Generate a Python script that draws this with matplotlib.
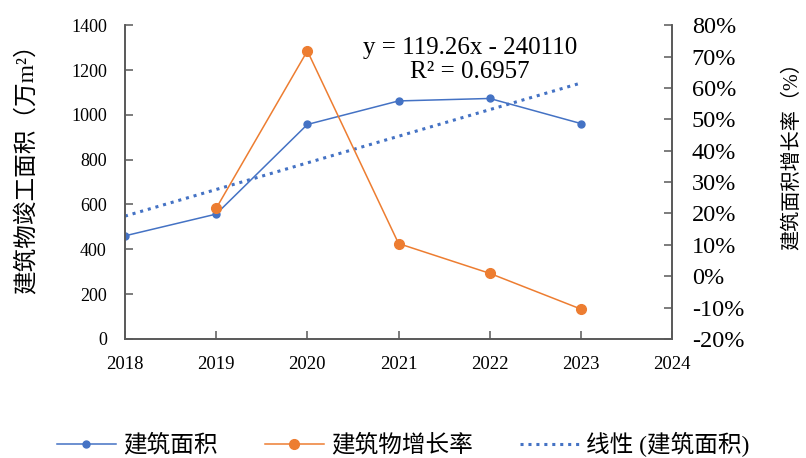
import numpy as np
import matplotlib.pyplot as plt
from matplotlib.ticker import FuncFormatter

plt.rcParams['font.family'] = ['Liberation Serif', 'Noto Sans CJK SC']
plt.rcParams['axes.unicode_minus'] = False

# data
years = [2018, 2019, 2020, 2021, 2022, 2023]
area = [460, 557, 957, 1062, 1073, 961]            # 建筑面积 (万m²)
growth_years = [2019, 2020, 2021, 2022, 2023]
growth = [21.6, 71.8, 10.4, 0.9, -10.5]            # 建筑物增长率 (%)

blue = '#4472C4'
orange = '#ED7D31'
axis_col = '#595959'

fig = plt.figure(figsize=(8.06, 4.58), dpi=100)
ax = fig.add_axes([0.155, 0.26, 0.679, 0.685])
ax2 = ax.twinx()

l1, = ax.plot(years, area, color=blue, lw=1.1, marker='o', ms=5, label='建筑面积')
l2, = ax2.plot(growth_years, growth, color=orange, lw=1.1, marker='o', ms=7, label='建筑物增长率')

# linear trend of the area series
k, b = np.polyfit(years, area, 1)
fit = np.polyval([k, b], years)
l3, = ax.plot(years, fit, color=blue, lw=2.2, ls=(0, (1, 1.6)), label='线性 (建筑面积)')
ax.text(2021.78, 1244, 'y = 119.26x - 240110\nR² = 0.6957', ha='center', va='center',
        fontsize=18, linespacing=1.1)

ax.set_xlim(2018, 2024)
ax.set_ylim(0, 1400)
ax.set_xticks(range(2018, 2025))
ax.set_yticks(range(0, 1401, 200))
ax2.set_ylim(-20, 80)
ax2.set_yticks(range(-20, 81, 10))
ax2.yaxis.set_major_formatter(FuncFormatter(lambda v, p: f'{v:.0f}%'))

for a in (ax, ax2):
    a.spines['top'].set_visible(False)
    for s in ('left', 'right', 'bottom'):
        a.spines[s].set_color(axis_col)
        a.spines[s].set_linewidth(1.2)
    a.tick_params(direction='in', length=6, color=axis_col, width=1.1)
ax.tick_params(axis='x', labelsize=13.5, pad=12)
ax.tick_params(axis='y', labelsize=13, pad=13)
ax2.tick_params(axis='y', labelsize=17.5, pad=14)

ax.set_ylabel('建筑物竣工面积（万m²）', fontsize=17)
ax.yaxis.set_label_coords(-0.158, 0.56)
ax2.set_ylabel('建筑面积增长率（%）', fontsize=14.5)
ax2.yaxis.set_label_coords(1.203, 0.6)

fig.legend(handles=[l1, l2, l3], loc='center', bbox_to_anchor=(0.5, 0.03), ncol=3,
           frameon=False, fontsize=17, handlelength=2.5, columnspacing=2.0,
           handletextpad=0.3)

fig.savefig('out.png', dpi=100)
